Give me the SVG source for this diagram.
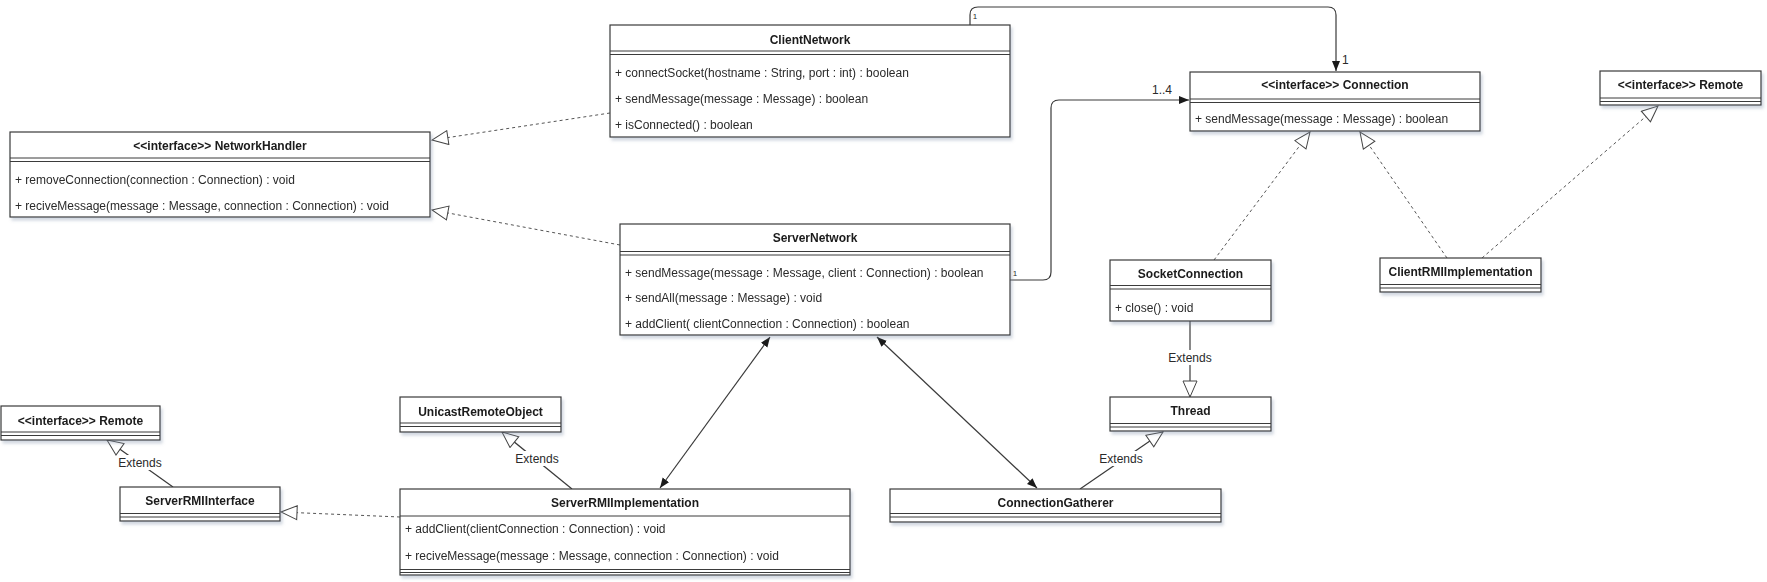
<svg xmlns="http://www.w3.org/2000/svg" width="1767" height="582" viewBox="0 0 1767 582">
<style>
.box{fill:#fff;stroke:#3a3a3a;stroke-width:1.2}
.sep{stroke:#3a3a3a;stroke-width:1}
.t{font-family:"Liberation Sans",Arial,Helvetica,sans-serif;font-size:12px;font-weight:bold;fill:#1a1a1a;text-anchor:middle}
.m{font-family:"Liberation Sans",Arial,Helvetica,sans-serif;font-size:12px;fill:#2a2a2a}
.lbl{font-family:"Liberation Sans",Arial,Helvetica,sans-serif;font-size:12px;fill:#2a2a2a;text-anchor:middle}
.sm{font-family:"Liberation Sans",Arial,Helvetica,sans-serif;font-size:8px;fill:#2a2a2a;text-anchor:middle}
.dash{fill:none;stroke:#555;stroke-width:1;stroke-dasharray:3,3}
.solid{fill:none;stroke:#3a3a3a;stroke-width:1.2}
.lblbg{fill:#fff}
</style>
<defs>
<filter id="sh" x="-5%" y="-10%" width="115%" height="140%">
<feDropShadow dx="2" dy="3" stdDeviation="1.5" flood-color="#8090a8" flood-opacity="0.35"/>
</filter>
<marker id="tri" viewBox="0 0 18 16" refX="17" refY="8" markerWidth="18" markerHeight="16" orient="auto" markerUnits="userSpaceOnUse">
<path d="M1,1 L17,8 L1,15 Z" fill="#fff" stroke="#444" stroke-width="1" stroke-dasharray="none"/>
</marker>
<marker id="arr" viewBox="0 0 10 10" refX="10" refY="5" markerWidth="10" markerHeight="10" orient="auto-start-reverse" markerUnits="userSpaceOnUse">
<path d="M0,1 L10,5 L0,9 Z" fill="#1a1a1a"/>
</marker>
</defs>
<rect width="1767" height="582" fill="#fff"/>

<g id="connectors">
<path class="dash" d="M610,113 L432,140" marker-end="url(#tri)"/>
<path class="dash" d="M620,245 L432,210" marker-end="url(#tri)"/>
<path class="dash" d="M1214,260 L1310,132" marker-end="url(#tri)"/>
<path class="dash" d="M1447,258 L1360,132" marker-end="url(#tri)"/>
<path class="dash" d="M1482,258 L1658,106" marker-end="url(#tri)"/>
<path class="dash" d="M400,517 L281,512" marker-end="url(#tri)"/>

<path class="solid" d="M970,25 V15 Q970,7 978,7 H1328 Q1336,7 1336,15 V71" marker-end="url(#arr)"/>
<path class="solid" d="M1010,280 H1043 Q1051,280 1051,272 V108 Q1051,100 1059,100 H1189" marker-end="url(#arr)"/>
<path class="solid" d="M770,337 L660,488" marker-start="url(#arr)" marker-end="url(#arr)"/>
<path class="solid" d="M877,337 L1037,488" marker-start="url(#arr)" marker-end="url(#arr)"/>

<path class="solid" d="M1190,321 V397" marker-end="url(#tri)"/>
<path class="solid" d="M1080,489 L1163,432" marker-end="url(#tri)"/>
<path class="solid" d="M572,489 L502,432" marker-end="url(#tri)"/>
<path class="solid" d="M173,487 L107,440" marker-end="url(#tri)"/>

<rect class="lblbg" x="1167" y="350" width="46" height="15"/>
<text class="lbl" x="1190" y="362">Extends</text>
<rect class="lblbg" x="1098" y="451" width="46" height="15"/>
<text class="lbl" x="1121" y="463">Extends</text>
<rect class="lblbg" x="514" y="451" width="46" height="15"/>
<text class="lbl" x="537" y="463">Extends</text>
<rect class="lblbg" x="117" y="455" width="46" height="15"/>
<text class="lbl" x="140" y="467">Extends</text>

<rect class="lblbg" x="971" y="11" width="8" height="10"/>
<text class="sm" x="975" y="19">1</text>
<rect class="lblbg" x="1011" y="268" width="8" height="10"/>
<text class="sm" x="1015" y="276">1</text>
<text class="m" x="1342" y="64">1</text>
<text class="m" x="1152" y="94">1..4</text>
</g>

<g id="ClientNetwork" filter="url(#sh)">
<rect class="box" x="610" y="25" width="400" height="112"/>
<line class="sep" x1="610" y1="51" x2="1010" y2="51"/>
<line class="sep" x1="610" y1="54.5" x2="1010" y2="54.5"/>
<text class="t" x="810" y="44">ClientNetwork</text>
<text class="m" x="615" y="77">+ connectSocket(hostname : String, port : int) : boolean</text>
<text class="m" x="615" y="103">+ sendMessage(message : Message) : boolean</text>
<text class="m" x="615" y="129">+ isConnected() : boolean</text>
</g>

<g id="NetworkHandler" filter="url(#sh)">
<rect class="box" x="10" y="132" width="420" height="85"/>
<line class="sep" x1="10" y1="158" x2="430" y2="158"/>
<line class="sep" x1="10" y1="161.5" x2="430" y2="161.5"/>
<text class="t" x="220" y="150">&lt;&lt;interface&gt;&gt; NetworkHandler</text>
<text class="m" x="15" y="184">+ removeConnection(connection : Connection) : void</text>
<text class="m" x="15" y="210">+ reciveMessage(message : Message, connection : Connection) : void</text>
</g>

<g id="Connection" filter="url(#sh)">
<rect class="box" x="1190" y="72" width="290" height="59"/>
<line class="sep" x1="1190" y1="99" x2="1480" y2="99"/>
<line class="sep" x1="1190" y1="102.5" x2="1480" y2="102.5"/>
<text class="t" x="1335" y="89">&lt;&lt;interface&gt;&gt; Connection</text>
<text class="m" x="1195" y="123">+ sendMessage(message : Message) : boolean</text>
</g>

<g id="RemoteRight" filter="url(#sh)">
<rect class="box" x="1600" y="71" width="161" height="34"/>
<line class="sep" x1="1600" y1="98" x2="1761" y2="98"/>
<line class="sep" x1="1600" y1="101.5" x2="1761" y2="101.5"/>
<text class="t" x="1680.5" y="89">&lt;&lt;interface&gt;&gt; Remote</text>
</g>

<g id="ServerNetwork" filter="url(#sh)">
<rect class="box" x="620" y="224" width="390" height="111"/>
<line class="sep" x1="620" y1="251.5" x2="1010" y2="251.5"/>
<line class="sep" x1="620" y1="255" x2="1010" y2="255"/>
<text class="t" x="815" y="242">ServerNetwork</text>
<text class="m" x="625" y="277">+ sendMessage(message : Message, client : Connection) : boolean</text>
<text class="m" x="625" y="302">+ sendAll(message : Message) : void</text>
<text class="m" x="625" y="328">+ addClient( clientConnection : Connection) : boolean</text>
</g>

<g id="SocketConnection" filter="url(#sh)">
<rect class="box" x="1110" y="260" width="161" height="61"/>
<line class="sep" x1="1110" y1="285.5" x2="1271" y2="285.5"/>
<line class="sep" x1="1110" y1="289" x2="1271" y2="289"/>
<text class="t" x="1190.5" y="278">SocketConnection</text>
<text class="m" x="1115" y="312">+ close() : void</text>
</g>

<g id="ClientRMIImplementation" filter="url(#sh)">
<rect class="box" x="1380" y="258" width="161" height="34"/>
<line class="sep" x1="1380" y1="284.5" x2="1541" y2="284.5"/>
<line class="sep" x1="1380" y1="288" x2="1541" y2="288"/>
<text class="t" x="1460.5" y="276">ClientRMIImplementation</text>
</g>

<g id="Thread" filter="url(#sh)">
<rect class="box" x="1110" y="397" width="161" height="34"/>
<line class="sep" x1="1110" y1="423.5" x2="1271" y2="423.5"/>
<line class="sep" x1="1110" y1="427" x2="1271" y2="427"/>
<text class="t" x="1190.5" y="415">Thread</text>
</g>

<g id="UnicastRemoteObject" filter="url(#sh)">
<rect class="box" x="400" y="397" width="161" height="35"/>
<line class="sep" x1="400" y1="423" x2="561" y2="423"/>
<line class="sep" x1="400" y1="426.5" x2="561" y2="426.5"/>
<text class="t" x="480.5" y="416">UnicastRemoteObject</text>
</g>

<g id="RemoteLeft" filter="url(#sh)">
<rect class="box" x="1" y="406" width="159" height="34"/>
<line class="sep" x1="1" y1="432" x2="160" y2="432"/>
<line class="sep" x1="1" y1="435.5" x2="160" y2="435.5"/>
<text class="t" x="80.5" y="425">&lt;&lt;interface&gt;&gt; Remote</text>
</g>

<g id="ServerRMIInterface" filter="url(#sh)">
<rect class="box" x="120" y="487" width="160" height="34"/>
<line class="sep" x1="120" y1="513.5" x2="280" y2="513.5"/>
<line class="sep" x1="120" y1="517" x2="280" y2="517"/>
<text class="t" x="200" y="505">ServerRMIInterface</text>
</g>

<g id="ServerRMIImplementation" filter="url(#sh)">
<rect class="box" x="400" y="489" width="450" height="86"/>
<line class="sep" x1="400" y1="516" x2="850" y2="516"/>
<line class="sep" x1="400" y1="569.5" x2="850" y2="569.5"/>
<line class="sep" x1="400" y1="572.5" x2="850" y2="572.5"/>
<text class="t" x="625" y="507">ServerRMIImplementation</text>
<text class="m" x="405" y="533">+ addClient(clientConnection : Connection) : void</text>
<text class="m" x="405" y="560">+ reciveMessage(message : Message, connection : Connection) : void</text>
</g>

<g id="ConnectionGatherer" filter="url(#sh)">
<rect class="box" x="890" y="489" width="331" height="33"/>
<line class="sep" x1="890" y1="513.5" x2="1221" y2="513.5"/>
<line class="sep" x1="890" y1="517" x2="1221" y2="517"/>
<text class="t" x="1055.5" y="507">ConnectionGatherer</text>
</g>
</svg>
